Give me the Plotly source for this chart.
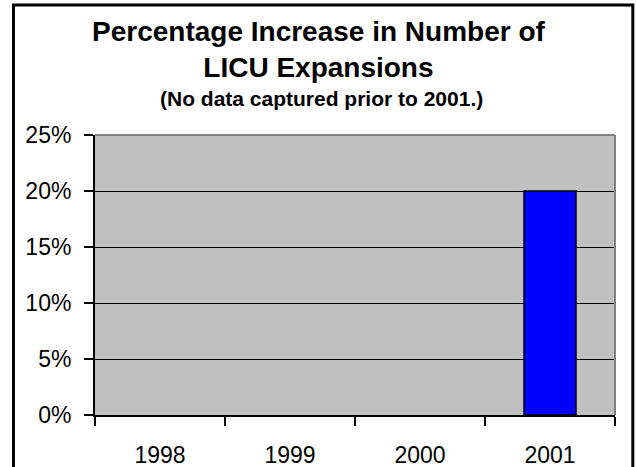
import plotly.graph_objects as go

# Chart data
years = ["1998", "1999", "2000", "2001"]
pct_increase = [None, None, None, 20]  # no data captured before 2001
y_ticks = [0, 5, 10, 15, 20, 25]
y_tick_labels = [f"{v}%" for v in y_ticks]

W, H = 636, 467
L, R, T, B = 95, 615, 135, 415  # plot area in pixels


def px_x(x):
    return (x - L) / (R - L)


def px_y(y):
    return (B - y) / (B - T)


FONT = "Liberation Sans, Arial, sans-serif"

fig = go.Figure(
    go.Bar(
        x=years,
        y=pct_increase,
        width=0.4,
        marker=dict(color="#0000FF", line=dict(color="black", width=1.5)),
    )
)

fig.update_layout(
    width=W,
    height=H,
    margin=dict(l=L, r=W - R, t=T, b=H - B, pad=0, autoexpand=False),
    paper_bgcolor="white",
    plot_bgcolor="#C0C0C0",
    showlegend=False,
    font=dict(family=FONT, color="black", size=23),
)

fig.update_xaxes(
    type="category",
    tickson="boundaries",
    ticks="outside",
    ticklen=9,
    tickwidth=2,
    tickcolor="black",
    showline=True,
    linecolor="black",
    linewidth=2,
    showgrid=False,
    tickfont=dict(size=23),
    ticklabelstandoff=18,
    automargin=False,
)

fig.update_yaxes(
    range=[0, 25],
    tickmode="array",
    tickvals=y_ticks,
    ticktext=y_tick_labels,
    ticks="outside",
    ticklen=9,
    tickwidth=2,
    tickcolor="black",
    showline=True,
    linecolor="black",
    linewidth=2,
    showgrid=True,
    gridcolor="black",
    gridwidth=1,
    zeroline=False,
    tickfont=dict(size=23),
    ticklabelstandoff=8,
    automargin=False,
)

shapes = [
    # plot area edge, top and right
    dict(type="line", xref="paper", yref="paper", x0=0, x1=1, y0=1, y1=1,
         line=dict(color="#808080", width=2), layer="above"),
    dict(type="line", xref="paper", yref="paper", x0=1, x1=1, y0=0, y1=1,
         line=dict(color="#808080", width=2), layer="above"),
    # chart frame
    dict(type="rect", xref="paper", yref="paper",
         x0=px_x(13.5), x1=px_x(632.8), y0=px_y(5), y1=px_y(480),
         line=dict(color="black", width=3), fillcolor="rgba(0,0,0,0)", layer="above"),
]
fig.update_layout(shapes=shapes)

annotations = [
    dict(text="<b>Percentage Increase in Number of<br>LICU Expansions</b>",
         xref="paper", yref="paper", x=px_x(319), y=px_y(14),
         xanchor="center", yanchor="top", showarrow=False,
         font=dict(family=FONT, size=28, color="black")),
    dict(text="<b>(No data captured prior to 2001.)</b>",
         xref="paper", yref="paper", x=px_x(321), y=px_y(85),
         xanchor="center", yanchor="top", showarrow=False,
         font=dict(family=FONT, size=21, color="black")),
]
fig.update_layout(annotations=annotations)

fig.write_html("out.html")
